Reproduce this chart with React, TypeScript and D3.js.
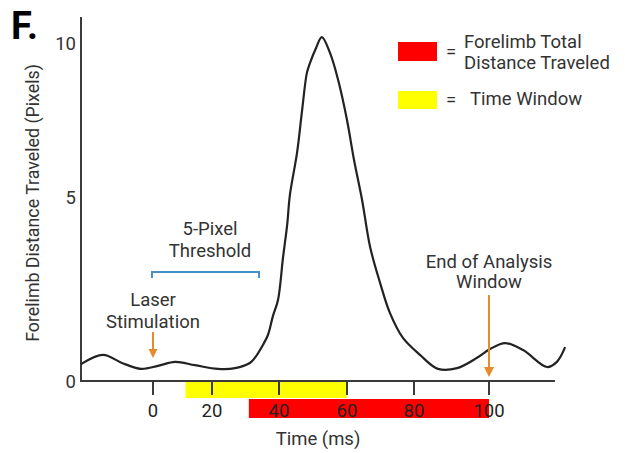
import React from "react";
import * as d3 from "d3";

// curve: time (ms) vs forelimb distance (pixels)
const timeMs = [
  -24.4, -16.9, -10.5, -4.1, 1.7, 7.5, 14.2, 21.8, 26.9, 31.3, 32.8, 35.2, 36.7, 38.2, 39.7,
  41.2, 42.4, 43.2, 45.3, 46.8, 48.2, 49.1, 50.9, 52.6, 55.0, 57.4, 60.0, 62.1, 64.5, 66.9,
  69.9, 72.8, 76.7, 81.6, 86.4, 91.5, 96.8, 100.3, 104.3, 109.1, 115.5, 118.1, 120.3,
];
const distancePx = [
  0.46, 0.71, 0.49, 0.33, 0.41, 0.52, 0.43, 0.33, 0.35, 0.49, 0.63, 0.98, 1.25, 1.77, 2.2,
  3.37, 4.24, 5.06, 6.43, 7.82, 9.03, 9.35, 9.84, 10.19, 9.68, 8.8, 7.5, 6.2, 4.92, 3.64,
  2.66, 1.85, 1.17, 0.71, 0.33, 0.35, 0.63, 0.87, 1.03, 0.84, 0.38, 0.52, 0.92,
];

const xTicks = [0, 20, 40, 60, 80, 100];
const yTicks = [0, 5, 10];
const timeWindow = [11, 60];
const totalDistance = [31, 100];
const stimTime = 0;
const endTime = 100;

const font = "Roboto, 'Noto Sans', sans-serif";
const ink = "#333";
const orange = "#e8892b";
const fs = 18.5;

export default function App() {
  const width = 625;
  const height = 453;

  // the figure's ticks are not evenly spaced, so use a polylinear scale
  const x = d3.scaleLinear().domain(xTicks).range([153, 212, 279, 347, 414, 489]);
  const y = d3.scaleLinear().domain(yTicks).range([381, 197, 43]);

  const pts: [number, number][] = timeMs.map((t, i) => [t, distancePx[i]]);
  const line = d3
    .line<[number, number]>()
    .x((d) => x(d[0]))
    .y((d) => y(d[1]))
    .curve(d3.curveCatmullRom.alpha(0.5));

  const axisLeft = 81;
  const axisRight = 555;
  const axisTop = 17;
  const base = y(0);

  const arrow = (cx: number, y1: number, y2: number, hw: number, hl: number) => (
    <g>
      <line x1={cx} x2={cx} y1={y1} y2={y2 - hl + 1} stroke={orange} strokeWidth={2} />
      <path d={`M${cx - hw},${y2 - hl} L${cx + hw},${y2 - hl} L${cx},${y2} Z`} fill={orange} />
    </g>
  );

  const label = (tx: number, ty: number, s: string, anchor = "middle") => (
    <text x={tx} y={ty} textAnchor={anchor} fontFamily={font} fontSize={fs} fill={ink}>
      {s}
    </text>
  );

  return (
    <svg width={width} height={height} style={{ position: "absolute", left: 0, top: 0, background: "#fff" }}>
      <rect width={width} height={height} fill="#fff" />

      {/* bars under the axis */}
      <rect x={x(timeWindow[0])} y={base} width={x(timeWindow[1]) - x(timeWindow[0])} height={17} fill="#ffff00" />
      <rect x={x(totalDistance[0])} y={base + 18} width={x(totalDistance[1]) - x(totalDistance[0])} height={19} fill="#ff0000" />

      {/* axes */}
      <line x1={axisLeft} x2={axisLeft} y1={axisTop} y2={base + 1} stroke="#3a3a3a" strokeWidth={2} />
      <line x1={axisLeft} x2={axisRight} y1={base} y2={base} stroke="#3a3a3a" strokeWidth={2} />
      {xTicks.map((t) => (
        <g key={t}>
          <line x1={x(t)} x2={x(t)} y1={base} y2={base + 14} stroke="#3a3a3a" strokeWidth={2} />
          <text x={x(t)} y={417} textAnchor="middle" fontFamily={font} fontSize={fs} fill="#222">
            {t}
          </text>
        </g>
      ))}
      {yTicks.map((t) => (
        <text key={t} x={76} y={y(t) + 7} textAnchor="end" fontFamily={font} fontSize={fs} fill={ink}>
          {t}
        </text>
      ))}

      {/* curve */}
      <path d={line(pts) ?? ""} fill="none" stroke="#222" strokeWidth={2.2} />

      {/* axis titles */}
      {label(318, 445, "Time (ms)")}
      <text
        transform="translate(39,203) rotate(-90)"
        textAnchor="middle"
        fontFamily={font}
        fontSize={17.8}
        fill={ink}
      >
        Forelimb Distance Traveled (Pixels)
      </text>

      {/* panel letter */}
      <text x={11} y={39} fontFamily={font} fontWeight="bold" fontSize={38} fill="#000">
        F.
      </text>

      {/* threshold bracket */}
      <path
        d={`M${x(stimTime) - 1},278 V272 H259 V278`}
        fill="none"
        stroke="#4a8fcc"
        strokeWidth={2}
      />
      {label(210, 235, "5-Pixel")}
      {label(210, 257, "Threshold")}

      {/* laser stimulation */}
      {label(x(stimTime), 306, "Laser")}
      {label(x(stimTime), 328, "Stimulation")}
      {arrow(x(stimTime), 332, 358, 4.5, 9)}

      {/* end of analysis window */}
      {label(x(endTime), 268, "End of Analysis")}
      {label(x(endTime), 288, "Window")}
      {arrow(x(endTime), 295, 377, 5, 10)}

      {/* legend */}
      <rect x={398} y={42} width={39} height={19} fill="#ff0000" />
      <rect x={398} y={91} width={39} height={18} fill="#ffff00" />
      {label(451, 58, "=")}
      {label(451, 106, "=")}
      {label(464, 48, "Forelimb Total", "start")}
      {label(464, 69, "Distance Traveled", "start")}
      {label(470, 105, "Time Window", "start")}
    </svg>
  );
}
